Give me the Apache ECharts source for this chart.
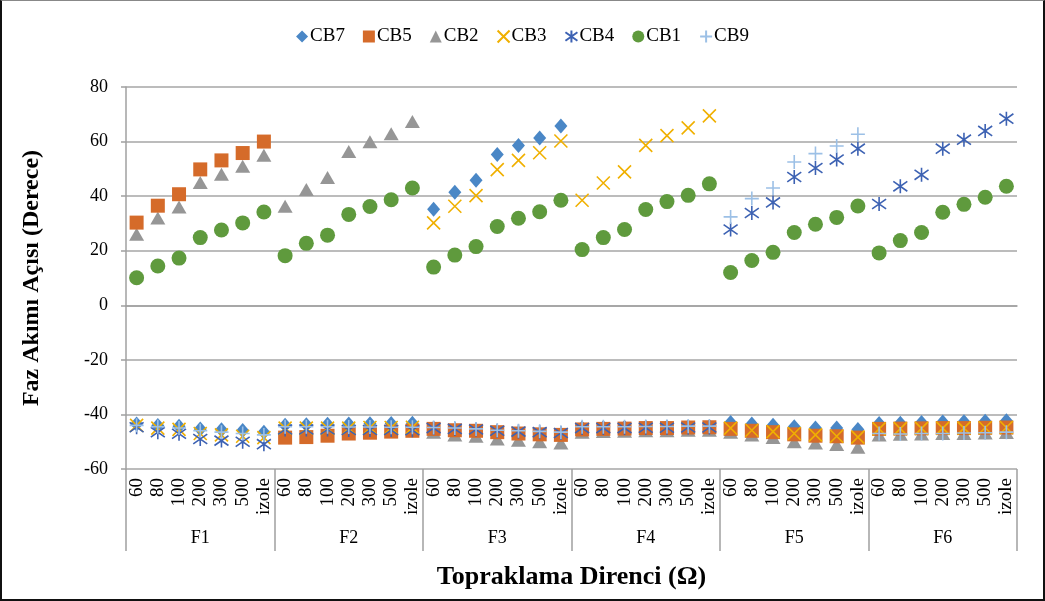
<!DOCTYPE html>
<html>
<head>
<meta charset="utf-8">
<script src="https://cdn.jsdelivr.net/npm/echarts@6/dist/echarts.min.js"></script>
<style>
  html, body { margin: 0; padding: 0; background: #fff; }
  #frame { position: absolute; left: 0; top: 0; width: 1045px; height: 601px; box-sizing: border-box;
           border: 2px solid #111; border-top: 1px solid #888; }
  #chart { position: absolute; left: 0; top: 0; width: 1045px; height: 601px; }
</style>
</head>
<body>
<div id="chart"></div>
<div id="frame"></div>
<script>
// Fault groups and grounding resistance steps along the x axis
const groups = ['F1', 'F2', 'F3', 'F4', 'F5', 'F6'];
const resistances = ['60', '80', '100', '200', '300', '500', 'izole'];
const yTicks = { min: -60, max: 80, step: 20 };

// Phase current angle (degrees) per breaker, 7 values for each fault group F1..F6
const CB7 = [
  -43.5, -44.1, -44.3, -45.3, -45.6, -45.9, -46.5,
  -44.0, -43.8, -43.6, -43.5, -43.4, -43.3, -43.2,
  35.2, 41.4, 45.8, 55.3, 58.6, 61.3, 65.7,
  -45.0, -44.9, -44.8, -44.7, -44.6, -44.5, -44.4,
  -43.0, -43.5, -44.0, -44.5, -45.0, -45.0, -45.5,
  -43.3, -43.2, -43.0, -42.8, -42.7, -42.5, -42.3
];
const CB5 = [
  30.3, 36.5, 40.7, 49.8, 53.1, 55.8, 60.0,
  -48.5, -48.3, -47.8, -47.0, -46.7, -46.3, -46.0,
  -45.3, -45.8, -46.0, -46.5, -47.0, -47.3, -47.5,
  -45.5, -45.3, -45.2, -45.0, -45.0, -44.8, -44.7,
  -45.3, -46.0, -46.5, -47.3, -47.8, -48.0, -48.5,
  -45.3, -45.2, -45.1, -45.0, -45.0, -44.9, -44.8
];
const CB2 = [
  26.0, 32.0, 36.0, 45.0, 48.0, 51.0, 55.0,
  36.3, 42.4, 46.8, 56.4, 59.9, 62.9, 67.4,
  -46.5, -47.5, -48.0, -49.0, -49.5, -50.0, -50.5,
  -46.5, -46.3, -46.2, -46.0, -46.0, -45.8, -45.8,
  -46.5, -47.5, -48.5, -50.0, -50.5, -51.0, -52.0,
  -47.5, -47.3, -47.2, -47.0, -47.0, -46.8, -46.6
];
const CB3 = [
  -44.0, -45.0, -45.5, -47.0, -47.5, -48.0, -48.5,
  -45.0, -45.0, -45.0, -45.0, -44.8, -44.8, -44.7,
  30.2, 36.3, 40.2, 49.7, 53.1, 55.9, 60.2,
  38.5, 44.8, 48.9, 58.6, 62.2, 65.0, 69.4,
  -45.0, -45.8, -46.3, -47.0, -47.5, -48.0, -48.3,
  -45.3, -45.2, -45.1, -45.0, -45.0, -44.9, -44.8
];
const CB4 = [
  -44.7, -46.5, -47.1, -49.0, -49.6, -50.0, -50.9,
  -45.5, -45.5, -45.5, -45.7, -45.7, -45.7, -45.8,
  -45.0, -45.3, -45.5, -46.0, -46.3, -46.5, -46.8,
  -45.0, -45.0, -45.0, -44.9, -44.9, -44.8, -44.8,
  27.8, 33.8, 37.7, 47.0, 50.3, 53.4, 57.4,
  37.1, 43.6, 47.8, 57.4, 60.7, 63.9, 68.4
];
const CB1 = [
  10.1, 14.4, 17.3, 24.8, 27.6, 30.2, 34.2,
  18.2, 22.7, 25.7, 33.3, 36.2, 38.7, 43.0,
  14.0, 18.4, 21.5, 28.9, 31.9, 34.3, 38.5,
  20.4, 24.8, 27.8, 35.1, 38.0, 40.3, 44.5,
  12.0, 16.4, 19.4, 26.7, 29.7, 32.2, 36.4,
  19.2, 23.7, 26.7, 34.1, 37.0, 39.6, 43.6
];
const CB9 = [
  -44.0, -44.5, -45.0, -46.0, -46.5, -47.0, -47.5,
  -44.5, -44.5, -44.5, -44.6, -44.6, -44.7, -44.7,
  -44.8, -45.0, -45.3, -45.8, -46.0, -46.2, -46.5,
  -44.5, -44.5, -44.5, -44.4, -44.4, -44.3, -44.3,
  32.4, 39.1, 43.0, 52.5, 55.6, 58.4, 62.7,
  -47.0, -47.2, -47.0, -47.0, -46.8, -46.7, -46.5
];

const FONT = '"Liberation Serif", "Times New Roman", serif';

// Unique category keys "F1|60", ... ; the label shows only the resistance part
const catKeys = [];
groups.forEach(g => resistances.forEach(r => catKeys.push(g + '|' + r)));

const toPoints = vals => vals.map((v, i) => [catKeys[i], v]);

// Stroke-only marker shapes
const PATH_X = 'path://M0,0 L10,10 M10,0 L0,10';
const PATH_STAR = 'path://M0,1.5 L10,8.5 M10,1.5 L0,8.5 M5,0 L5,10';
const PATH_PLUS = 'path://M0,5 L10,5 M5,0 L5,10';

const seriesDefs = [
  { name: 'CB7', data: CB7, symbol: 'diamond', size: [13, 15], color: '#4a87c6', z: 3 },
  { name: 'CB5', data: CB5, symbol: 'rect', size: 14, color: '#d56b2a', z: 4 },
  { name: 'CB2', data: CB2, symbol: 'triangle', size: [15, 13], color: '#969696', z: 2 },
  { name: 'CB3', data: CB3, symbol: PATH_X, size: 13, color: '#f0b000', stroke: true, z: 5 },
  { name: 'CB4', data: CB4, symbol: PATH_STAR, size: 14, color: '#3d62b3', stroke: true, z: 6 },
  { name: 'CB1', data: CB1, symbol: 'circle', size: 15, color: '#5f9a3d', z: 7 },
  { name: 'CB9', data: CB9, symbol: PATH_PLUS, size: 14, color: '#9cc0e6', stroke: true, z: 8 }
];

const series = seriesDefs.map(d => ({
  name: d.name,
  type: 'scatter',
  xAxisIndex: 0,
  yAxisIndex: 0,
  z: d.z,
  symbol: d.symbol,
  symbolSize: d.size,
  data: toPoints(d.data),
  itemStyle: d.stroke
    ? { color: 'rgba(0,0,0,0)', borderColor: d.color, borderWidth: 1.6, opacity: 1 }
    : { color: d.color, borderWidth: 0, opacity: 1 },
  emphasis: { disabled: true }
}));

const chart = echarts.init(document.getElementById('chart'), null, { renderer: 'canvas' });
chart.setOption({
  animation: false,
  backgroundColor: '#fff',
  textStyle: { fontFamily: FONT },
  legend: {
    top: 22,
    left: 'center',
    itemGap: 18,
    itemWidth: 12,
    itemHeight: 12,
    textStyle: { fontFamily: FONT, fontSize: 19, color: '#000', padding: [0, 0, 0, -3] },
    data: seriesDefs.map(d => ({ name: d.name, icon: d.symbol, itemStyle: { opacity: 1 } }))
  },
  grid: { left: 126, right: 28, top: 87, bottom: 132, containLabel: false },
  xAxis: [
    {
      type: 'category',
      data: catKeys,
      boundaryGap: true,
      axisLine: { show: true, lineStyle: { color: '#a0a0a0', width: 1.5 } },
      axisTick: { show: false },
      axisLabel: {
        interval: 0,
        rotate: 90,
        margin: 9,
        fontFamily: FONT,
        fontSize: 19,
        color: '#000',
        formatter: v => v.split('|')[1]
      },
      splitLine: { show: false }
    },
    {
      type: 'category',
      data: groups,
      position: 'bottom',
      offset: 0,
      boundaryGap: true,
      axisLine: { show: false },
      axisTick: { show: true, interval: 0, length: 82, lineStyle: { color: '#a0a0a0', width: 1.5 } },
      axisLabel: { interval: 0, margin: 60, fontFamily: FONT, fontSize: 18, color: '#000' },
      name: 'Topraklama Direnci (Ω)',
      nameLocation: 'middle',
      nameGap: 95,
      nameTextStyle: { fontFamily: FONT, fontSize: 26, fontWeight: 'bold', color: '#000' }
    }
  ],
  yAxis: {
    type: 'value',
    min: yTicks.min,
    max: yTicks.max,
    interval: yTicks.step,
    axisLine: { show: true, lineStyle: { color: '#a0a0a0', width: 1.5 } },
    axisTick: { show: true, length: 5, lineStyle: { color: '#a0a0a0', width: 1.5 } },
    axisLabel: { margin: 18, fontFamily: FONT, fontSize: 18, color: '#000' },
    splitLine: { show: true, lineStyle: { color: '#a6a6a6', width: 1.5 } },
    name: 'Faz Akımı Açısı (Derece)',
    nameLocation: 'middle',
    nameRotate: 90,
    nameGap: 82,
    nameTextStyle: { fontFamily: FONT, fontSize: 24, fontWeight: 'bold', color: '#000' }
  },
  series: series
});
</script>
</body>
</html>
